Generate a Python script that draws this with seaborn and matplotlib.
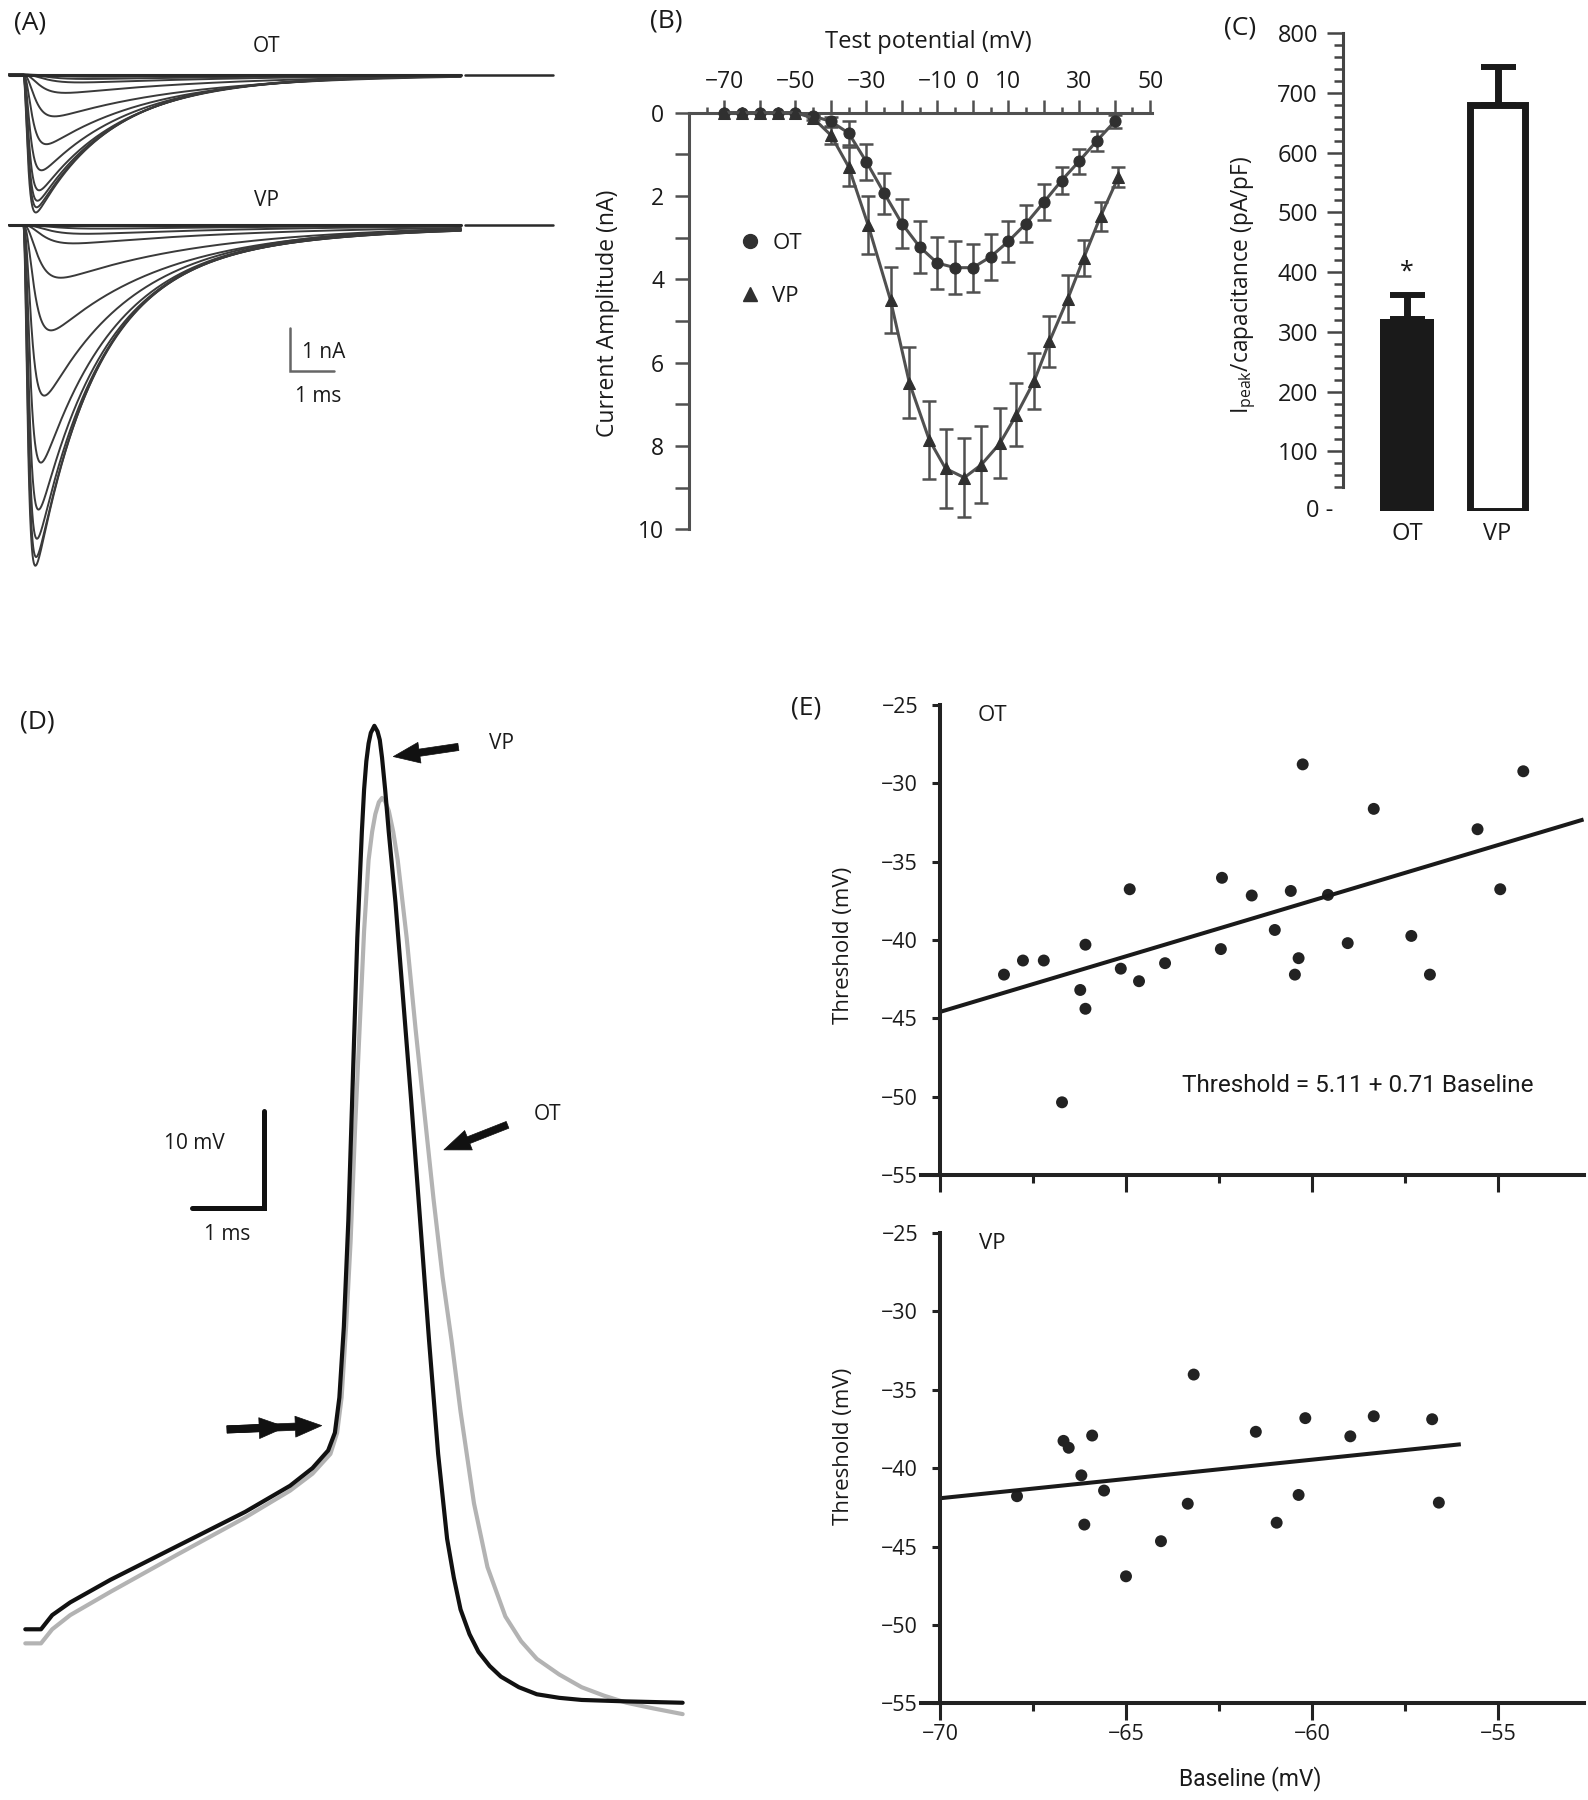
import numpy as np
import matplotlib
matplotlib.use("Agg")
import matplotlib.pyplot as plt
from matplotlib.lines import Line2D
from matplotlib.ticker import FixedLocator, FixedFormatter
import seaborn as sns

# ---------------------------------------------------------------- data
# (A) Na+ current traces: peak (nA), activation / inactivation tau (ms)
A_OT_PEAK = [0.05, 0.10, 0.18, 0.42, 0.96, 1.60, 2.20, 2.66, 2.90, 3.05, 3.17]
A_OT_TAU_M = [0.50, 0.40, 0.35, 0.25, 0.18, 0.13, 0.10, 0.085, 0.075, 0.07, 0.065]
A_OT_TAU_H = [5.0, 5.0, 4.5, 3.8, 3.0, 2.3, 1.95, 1.8, 1.7, 1.65, 1.6]
A_VP_PEAK = [0.08, 0.20, 0.42, 1.21, 2.42, 3.92, 5.46, 6.54, 7.21, 7.63, 7.83]
A_VP_TAU_M = [0.50, 0.40, 0.30, 0.22, 0.16, 0.12, 0.10, 0.085, 0.075, 0.07, 0.065]
A_VP_TAU_H = [5.0, 4.5, 4.5, 3.3, 2.5, 1.9, 1.6, 1.45, 1.38, 1.33, 1.3]
A_OT_SLOW = (0.12, 3.5)   # slow-component fraction, tau (ms)
A_VP_SLOW = (0.15, 4.0)

# (B) I-V relation
B_OT_VOLTS = [-70, -65, -60, -55, -50, -45, -40, -35, -30, -25, -20, -15,
              -10, -5, 0, 5, 10, 15, 20, 25, 30, 35, 40]
B_OT_MEAN = [0, 0, 0, 0, 0, 0.08, 0.21, 0.49, 1.18, 1.93, 2.66, 3.22,
             3.61, 3.72, 3.72, 3.46, 3.09, 2.66, 2.15, 1.63, 1.16, 0.67, 0.21]
B_OT_SEM = [0, 0, 0, 0, 0, 0.03, 0.10, 0.28, 0.43, 0.49, 0.58, 0.62,
            0.62, 0.64, 0.58, 0.56, 0.49, 0.45, 0.43, 0.32, 0.30, 0.24, 0.15]
B_VP_VOLTS = [-70, -65, -60, -55, -50, -45, -40, -35, -29.5, -23.2, -17.9, -12.3,
              -7.7, -2.4, 2.4, 7.6, 12.3, 17.3, 21.6, 26.8, 31.3, 36.0, 41.0]
B_VP_MEAN = [0, 0, 0, 0, 0, 0.13, 0.54, 1.30, 2.70, 4.50, 6.48, 7.85,
             8.54, 8.76, 8.45, 7.94, 7.25, 6.44, 5.49, 4.46, 3.48, 2.49, 1.55]
B_VP_SEM = [0, 0, 0, 0, 0, 0.05, 0.20, 0.47, 0.69, 0.79, 0.86, 0.94,
            0.94, 0.94, 0.92, 0.84, 0.75, 0.67, 0.62, 0.56, 0.43, 0.34, 0.24]

# (C) peak current density
C_GROUPS = ["OT", "VP"]
C_MEANS = [322, 680]
C_SEM = [40, 64]

# (D) action potentials (ms, mV)
D_VP_T = [0, 0.217, 0.372, 0.621, 1.179, 2.110, 3.041, 3.662, 3.972, 4.189,
          4.282, 4.344, 4.406, 4.468, 4.530, 4.592, 4.655, 4.686, 4.717, 4.748,
          4.779, 4.828, 4.872, 4.903, 4.934, 4.977, 5.027, 5.120, 5.213, 5.337,
          5.461, 5.585, 5.710, 5.834, 5.927, 6.020, 6.144, 6.268, 6.423, 6.578,
          6.827, 7.075, 7.385, 7.695, 8.316, 9.092]
D_VP_V = [-60.03, -60.03, -58.56, -57.24, -54.89, -51.37, -47.85, -45.14, -43.31,
          -41.48, -39.64, -35.98, -28.64, -17.64, -2.98, 11.69, 22.69, 27.09,
          30.02, 31.86, 32.96, 33.69, 33.10, 32.23, 30.39, 27.09, 22.69, 15.36,
          6.56, -5.18, -17.64, -30.11, -41.84, -50.64, -54.67, -57.97, -60.54,
          -62.37, -63.84, -64.94, -66.04, -66.77, -67.14, -67.36, -67.51, -67.65]
D_OT_T = [0, 0.217, 0.372, 0.621, 1.179, 2.110, 3.041, 3.662, 3.972, 4.220,
          4.313, 4.375, 4.437, 4.499, 4.561, 4.623, 4.686, 4.748, 4.797, 4.841,
          4.890, 4.934, 4.977, 5.027, 5.089, 5.151, 5.275, 5.399, 5.523, 5.647,
          5.772, 5.896, 6.020, 6.206, 6.392, 6.640, 6.858, 7.075, 7.385, 7.695,
          8.006, 8.316, 8.688, 9.092]
D_OT_V = [-61.49, -61.49, -60.03, -58.56, -56.14, -52.25, -48.44, -45.65, -43.89,
          -41.84, -39.64, -35.98, -28.64, -19.84, -8.11, 2.16, 12.42, 19.76,
          22.69, 24.52, 25.77, 26.21, 25.84, 24.89, 22.69, 19.76, 11.69, 2.16,
          -6.64, -15.44, -23.51, -30.11, -37.44, -46.97, -53.57, -58.70, -61.27,
          -63.10, -64.72, -66.04, -66.92, -67.65, -68.24, -68.83]

# (E) threshold vs baseline potential (mV)
E_OT_BASE = [-68.28, -67.77, -67.21, -66.72, -66.23, -66.09, -66.09, -65.14,
             -64.90, -64.65, -63.95, -62.42, -62.45, -61.62, -61.00, -60.57,
             -60.46, -60.36, -60.25, -59.57, -59.04, -58.34, -57.33, -56.83,
             -55.55, -54.94, -54.32]
E_OT_THR = [-42.21, -41.31, -41.31, -50.36, -43.19, -44.39, -40.30, -41.83,
            -36.76, -42.63, -41.48, -36.03, -40.58, -37.16, -39.36, -36.87,
            -42.21, -41.16, -28.79, -37.12, -40.20, -31.63, -39.74, -42.21,
            -32.93, -36.76, -29.23]
E_VP_BASE = [-67.93, -66.68, -66.54, -65.91, -66.20, -66.12, -65.59, -65.00,
             -64.06, -63.34, -63.18, -61.51, -60.95, -60.36, -60.18, -58.97,
             -58.34, -56.77, -56.59]
E_VP_THR = [-41.79, -38.26, -38.70, -37.92, -40.46, -43.60, -41.43, -46.90,
            -44.66, -42.27, -34.03, -37.68, -43.48, -41.71, -36.81, -37.97,
            -36.69, -36.88, -42.20]
E_OT_FIT = (5.11, 0.71, -70.0, -52.7)     # intercept, slope, x range
E_VP_FIT = (-24.7, 0.246, -70.0, -56.0)

# ---------------------------------------------------------------- style
W, H, DPI = 1588, 1800, 100
INK = "#1a1a1a"
GREY = "#505050"

sns.set_theme(style="ticks")
plt.rcParams["font.family"] = ["Open Sans", "DejaVu Sans"]
plt.rcParams["mathtext.default"] = "regular"
plt.rcParams["text.color"] = INK
plt.rcParams["xtick.color"] = INK
plt.rcParams["ytick.color"] = INK
NARROW = ["Roboto", "DejaVu Sans"]

fig = plt.figure(figsize=(W / DPI, H / DPI), dpi=DPI)


def px_axes(x0, y0, x1, y1):
    """Axes placed by pixel box (top-left origin)."""
    ax = fig.add_axes([x0 / W, 1 - y1 / H, (x1 - x0) / W, (y1 - y0) / H])
    ax.patch.set_alpha(0)
    return ax


def ftext(x, y, s, **kw):
    kw.setdefault("ha", "center")
    kw.setdefault("va", "center")
    fig.text(x / W, 1 - y / H, s, **kw)


# ---------------------------------------------------------------- (A)
axA = px_axes(0, 0, 580, 600)
ms_px, na_px, t0_px, base_px = 44.3, 43.5, 23.2, 74.6
axA.set_xlim(-t0_px / ms_px, (580 - t0_px) / ms_px)
axA.set_ylim(-(600 - base_px) / na_px, base_px / na_px)
axA.axis("off")

t = np.linspace(-0.32, 9.88, 1500)
tp = np.clip(t, 0, None)
vp_offset = -3.46
for offset, peaks, tms, ths, (frac, tslow) in [
        (0.0, A_OT_PEAK, A_OT_TAU_M, A_OT_TAU_H, A_OT_SLOW),
        (vp_offset, A_VP_PEAK, A_VP_TAU_M, A_VP_TAU_H, A_VP_SLOW)]:
    for p, tm, th in zip(peaks, tms, ths):
        h = (1 - frac) * np.exp(-tp / th) + frac * np.exp(-tp / max(tslow, th))
        g = (1 - np.exp(-tp / tm)) ** 3 * h
        axA.plot(t, offset - p * g / g.max(), color="#3a3a3a", lw=1.4)
    axA.plot([-0.32, 9.88], [offset, offset], color="#2a2a2a", lw=2.2)
    axA.plot([9.98, 11.96], [offset, offset], color="#2a2a2a", lw=1.8)

sb_t, sb_i = (290 - t0_px) / ms_px, -(328 - base_px) / na_px
axA.plot([sb_t, sb_t, sb_t + 1], [sb_i, sb_i - 1, sb_i - 1], color="#666666",
         lw=1.8, solid_joinstyle="miter")
ftext(30, 23, "(A)", fontsize=19)
ftext(267, 47, "OT", fontsize=15)
ftext(267, 200, "VP", fontsize=15)
ftext(302, 352, "1 nA", fontsize=15, ha="left")
ftext(318, 397, "1 ms", fontsize=15)

# ---------------------------------------------------------------- (B)
axB = px_axes(689, 112.7, 1152, 529.3)
axB.set_xlim(-80, 50.5)
axB.set_ylim(10, 0)

for volts, mean, sem, marker, ms in [
        (B_OT_VOLTS, B_OT_MEAN, B_OT_SEM, "o", 8),
        (B_VP_VOLTS, B_VP_MEAN, B_VP_SEM, "^", 9)]:
    volts, mean, sem = np.array(volts, float), np.array(mean), np.array(sem)
    m = sem > 0
    axB.errorbar(volts[m], mean[m], yerr=sem[m], fmt="none", ecolor=GREY,
                 elinewidth=1.8, capsize=5, capthick=1.8, clip_on=False, zorder=2)
    sns.lineplot(x=volts, y=mean, ax=axB, color=GREY, lw=2.2, marker=marker,
                 markersize=ms, markerfacecolor="#303030",
                 markeredgecolor="#303030", zorder=3, clip_on=False)

for s in ("right", "bottom"):
    axB.spines[s].set_visible(False)
for s in ("top", "left"):
    axB.spines[s].set_color(GREY)
    axB.spines[s].set_linewidth(2.2)
axB.xaxis.tick_top()
xmaj = list(range(-70, 51, 10))
xlab = {-70: "\u221270", -50: "\u221250", -30: "\u221230", -10: "\u221210",
        0: "0", 10: "10", 30: "30", 50: "50"}
axB.xaxis.set_major_locator(FixedLocator(xmaj))
axB.xaxis.set_major_formatter(FixedFormatter([xlab.get(v, "") for v in xmaj]))
axB.xaxis.set_minor_locator(FixedLocator(list(range(-75, 50, 10))))
axB.yaxis.set_major_locator(FixedLocator(list(range(0, 11))))
axB.yaxis.set_major_formatter(FixedFormatter([str(v) if v % 2 == 0 else ""
                                              for v in range(0, 11)]))
axB.tick_params(axis="x", which="major", direction="out", length=9.4, width=1.8,
                color=GREY, labelsize=16.5, pad=4)
axB.tick_params(axis="x", which="minor", direction="out", length=4.3, width=1.8,
                color=GREY)
axB.tick_params(axis="y", which="major", direction="out", length=10, width=1.8,
                color=GREY, labelsize=16.5, pad=8)
axB.set_xlabel("")
axB.set_ylabel("")

legend_handles = [
    Line2D([], [], ls="none", marker="o", markersize=10, color="#303030"),
    Line2D([], [], ls="none", marker="^", markersize=10, color="#303030"),
]
axB.legend(legend_handles, ["OT", "VP"], loc="upper left", frameon=False,
           fontsize=16, handlelength=1.0, handletextpad=0.5, labelspacing=1.45,
           borderpad=0, borderaxespad=0, bbox_to_anchor=(739 / W, 1 - 233 / H),
           bbox_transform=fig.transFigure)
ftext(666, 21, "(B)", fontsize=19)
ftext(928, 42, "Test potential (mV)", fontsize=17)
ftext(608, 313, "Current Amplitude (nA)", fontsize=16.5, rotation=90)

# ---------------------------------------------------------------- (C)
c_left, c_right = 1342.7, 1560
axC = px_axes(c_left, 33.3, c_right, 511)
sns.barplot(x=C_GROUPS, y=C_MEANS, hue=C_GROUPS, palette=[INK, "white"],
            width=0.597, errorbar=None, saturation=1, legend=False, ax=axC)
axC.set_ylim(0, 800)
axC.set_xlim(-0.71, 1.69)
bars = axC.patches
bars[0].set_linewidth(0)
bars[1].set_edgecolor(INK)
bars[1].set_linewidth(5)
axC.errorbar([0, 1], C_MEANS, yerr=[[0, 0], C_SEM], fmt="none", ecolor=INK,
             elinewidth=5, capsize=12.6, capthick=4.3, zorder=1)
axC.text(0, 400, "*", ha="center", va="center", fontsize=18)

for s in ("right", "top", "bottom"):
    axC.spines[s].set_visible(False)
axC.spines["left"].set_bounds(40, 800)
axC.spines["left"].set_color("#444444")
axC.spines["left"].set_linewidth(2.2)
axC.yaxis.set_major_locator(FixedLocator(list(range(100, 801, 100))))
axC.yaxis.set_minor_locator(FixedLocator([v for v in range(40, 800, 20)
                                          if v % 100]))
axC.tick_params(axis="y", which="major", direction="out", length=11.5, width=1.8,
                color="#444444", labelsize=17, pad=6.3)
axC.tick_params(axis="y", which="minor", direction="out", length=6.5, width=1.8,
                color="#444444")
axC.tick_params(axis="x", length=0, labelsize=17, pad=8)
axC.text((1333 - c_left) / (c_right - c_left), 0, "0 -", fontsize=17,
         ha="right", va="center", transform=axC.get_yaxis_transform())
axC.set_xlabel("")
axC.set_ylabel("")
ftext(1240, 28, "(C)", fontsize=19)
ftext(1244, 285, "I$_{peak}$/capacitance (pA/pF)", fontsize=16.3, rotation=90)

# ---------------------------------------------------------------- (D)
axD = px_axes(0, 680, 700, 1780)
d_ms, d_mv, d_x0, d_y0 = 72.3, 9.64, 25.3, 1629
axD.set_xlim(-d_x0 / d_ms, (700 - d_x0) / d_ms)
axD.set_ylim(-60 - (1780 - d_y0) / d_mv, -60 + (d_y0 - 680) / d_mv)
axD.axis("off")
axD.plot(D_OT_T, D_OT_V, color="#b3b3b3", lw=3, solid_joinstyle="round")
axD.plot(D_VP_T, D_VP_V, color="#111111", lw=3, solid_joinstyle="round")

# scale bar: 1 ms x 10 mV
axD.plot([2.30, 3.30, 3.30], [-16.3, -16.3, -6.3], color="#111111", lw=3.6,
         solid_joinstyle="miter")
arrow = dict(arrowstyle="simple,head_length=0.95,head_width=0.75,tail_width=0.26",
             mutation_scale=20, fc="#111111", ec="#111111", lw=0.5,
             shrinkA=0, shrinkB=0)
axD.annotate("", xy=(5.09, 30.5), xytext=(5.99, 31.5), arrowprops=arrow)
axD.annotate("", xy=(5.79, -10.3), xytext=(6.67, -7.7), arrowprops=arrow)
axD.annotate("", xy=(4.10, -38.9), xytext=(2.79, -39.3), arrowprops=arrow)
axD.annotate("", xy=(3.60, -39.05), xytext=(2.79, -39.3), arrowprops=arrow)
axD.text(6.58, 31.9, "VP", ha="center", va="center", fontsize=15)
axD.text(7.23, -6.6, "OT", ha="center", va="center", fontsize=15)
axD.text(2.34, -9.6, "10 mV", ha="center", va="center", fontsize=15)
axD.text(2.79, -19.1, "1 ms", ha="center", va="center", fontsize=15)
ftext(37, 722, "(D)", fontsize=19)

# ---------------------------------------------------------------- (E)
e_left, e_right, e_px = 921.4, 1584, 37.2
for (top, bot, base, thr, fit, name, show_x) in [
        (705, 1175, E_OT_BASE, E_OT_THR, E_OT_FIT, "OT", False),
        (1233, 1703.3, E_VP_BASE, E_VP_THR, E_VP_FIT, "VP", True)]:
    ax = px_axes(e_left, top, e_right, bot)
    ax.set_xlim(-70.5, -70.5 + (e_right - e_left) / e_px)
    ax.set_ylim(-55, -25)
    sns.scatterplot(x=base, y=thr, ax=ax, s=74, color="#222222",
                    edgecolor="none", linewidth=0, legend=False, clip_on=False)
    b0, b1, x0, x1 = fit
    fx = np.array([x0, x1])
    ax.plot(fx, b0 + b1 * fx, color="#1a1a1a", lw=2.9, solid_capstyle="butt")
    for s in ("right", "top"):
        ax.spines[s].set_visible(False)
    ax.spines["left"].set_position(("data", -70))
    for s in ("left", "bottom"):
        ax.spines[s].set_color("#222222")
        ax.spines[s].set_linewidth(2.9)
    ax.yaxis.set_major_locator(FixedLocator(list(range(-55, -24, 5))))
    ax.yaxis.set_major_formatter(FixedFormatter(
        ["\u2212%d" % -v for v in range(-55, -24, 5)]))
    ax.xaxis.set_major_locator(FixedLocator([-70, -65, -60, -55]))
    ax.xaxis.set_minor_locator(FixedLocator([-67.5, -62.5, -57.5]))
    ax.xaxis.set_major_formatter(FixedFormatter(
        ["\u221270", "\u221265", "\u221260", "\u221255"] if show_x else [""] * 4))
    ax.tick_params(axis="y", direction="out", length=5.8, width=2.2,
                   color="#222222", labelsize=15.5, pad=10)
    ax.tick_params(axis="x", which="major", direction="out", length=12.2,
                   width=2.2, color="#222222", labelsize=15.5, pad=3)
    ax.tick_params(axis="x", which="minor", direction="out", length=5.8,
                   width=2.2, color="#222222")
    ax.set_xlabel("")
    ax.set_ylabel("")
    ax.text(-68.6, -25.7, name, ha="center", va="center", fontsize=16)

ftext(806, 708, "(E)", fontsize=19)
ftext(844, 945, "Threshold (mV)", fontsize=16, rotation=90)
ftext(844, 1446, "Threshold (mV)", fontsize=16, rotation=90)
ftext(1358, 1086, "Threshold = 5.11 + 0.71 Baseline", fontsize=17.5,
      family=NARROW)
ftext(1250, 1779, "Baseline (mV)", fontsize=16.5, family=NARROW)

fig.savefig("out.png", dpi=DPI)
